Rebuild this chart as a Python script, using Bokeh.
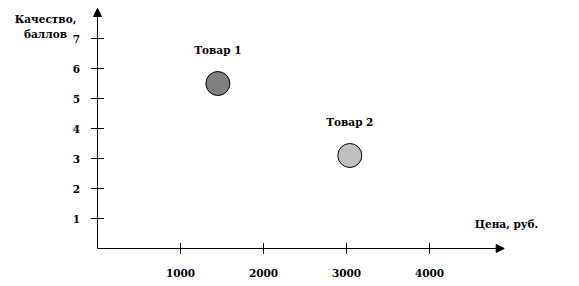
from bokeh.plotting import figure
from bokeh.models import Range1d, Label, Arrow, NormalHead, ColumnDataSource
from bokeh.core.properties import value
from bokeh.embed import file_html
from bokeh.resources import INLINE
import math

# ---- data ----
products = ["Товар 1", "Товар 2"]
prices = [1450, 3040]
quality = [5.5, 3.1]
colors = ["#808080", "#c0c0c0"]

x_ticks = [1000, 2000, 3000, 4000]
x_tick_labels = ["1000", "2000", "3000", "4000"]
y_ticks = [1, 2, 3, 4, 5, 6, 7]
y_tick_labels = ["1", "2", "3", "4", "5", "6", "7"]

x_title = "Цена, руб."
y_title = ["Качество,", "баллов"]

X_AXIS_END = 4900
Y_AXIS_END = 8.0

FONT = "DejaVu Serif"
FS = "10.5px"

W, H = 579, 286
px_per_x = 83 / 1000.0
px_per_y = 30.0
ox, oy = 97, 248  # origin in pixels

p = figure(width=W, height=H, output_backend="svg", toolbar_location=None,
           x_range=Range1d(-ox / px_per_x, (W - ox) / px_per_x),
           y_range=Range1d(-(H - oy) / px_per_y, oy / px_per_y),
           min_border=0)
p.axis.visible = False
p.grid.visible = False
p.outline_line_color = None
p.background_fill_color = "white"
p.border_fill_color = "white"

# axes with arrow heads
p.add_layout(Arrow(end=NormalHead(size=8, fill_color="black", line_color="black"),
                   x_start=0, y_start=0, x_end=X_AXIS_END, y_end=0,
                   line_color="black", line_width=1))
p.add_layout(Arrow(end=NormalHead(size=8, fill_color="black", line_color="black"),
                   x_start=0, y_start=0, x_end=0, y_end=Y_AXIS_END,
                   line_color="black", line_width=1))

# ticks
p.scatter(x=x_ticks, y=[0] * len(x_ticks), marker="dash", size=11,
          angle=math.pi / 2, line_color="black", line_width=1)
p.scatter(x=[0] * len(y_ticks), y=y_ticks, marker="dash", size=13,
          line_color="black", line_width=1)

# tick labels
p.text(x=x_ticks, y=[0] * len(x_ticks), text=x_tick_labels, y_offset=24,
       text_align="center", text_baseline="middle", text_font=value(FONT),
       text_font_size=FS, text_font_style="bold", text_color="black")
p.text(x=[0] * len(y_ticks), y=y_ticks, text=y_tick_labels, x_offset=-21,
       text_align="center", text_baseline="middle", text_font=value(FONT),
       text_font_size=FS, text_font_style="bold", text_color="black")

# points
src = ColumnDataSource(dict(x=prices, y=quality, c=colors, t=products))
p.scatter("x", "y", source=src, size=24, fill_color="c", line_color="black",
          line_width=1)
p.text("x", "y", text="t", source=src, y_offset=-34, text_align="center",
       text_baseline="middle", text_font=value(FONT), text_font_size=FS,
       text_font_style="bold", text_color="black")

# axis titles
p.add_layout(Label(x=X_AXIS_END, y=0, text=x_title, x_offset=34, y_offset=25,
                   text_align="right", text_baseline="middle", text_font=FONT,
                   text_font_size=FS, text_font_style="bold", text_color="black"))
p.add_layout(Label(x=0, y=Y_AXIS_END, text=y_title[0], x_offset=-52, y_offset=-10,
                   text_align="center", text_baseline="middle", text_font=FONT,
                   text_font_size=FS, text_font_style="bold", text_color="black"))
p.add_layout(Label(x=0, y=Y_AXIS_END, text=y_title[1], x_offset=-52, y_offset=-25,
                   text_align="center", text_baseline="middle", text_font=FONT,
                   text_font_size=FS, text_font_style="bold", text_color="black"))

open("out.html", "w").write(file_html(p, INLINE))
